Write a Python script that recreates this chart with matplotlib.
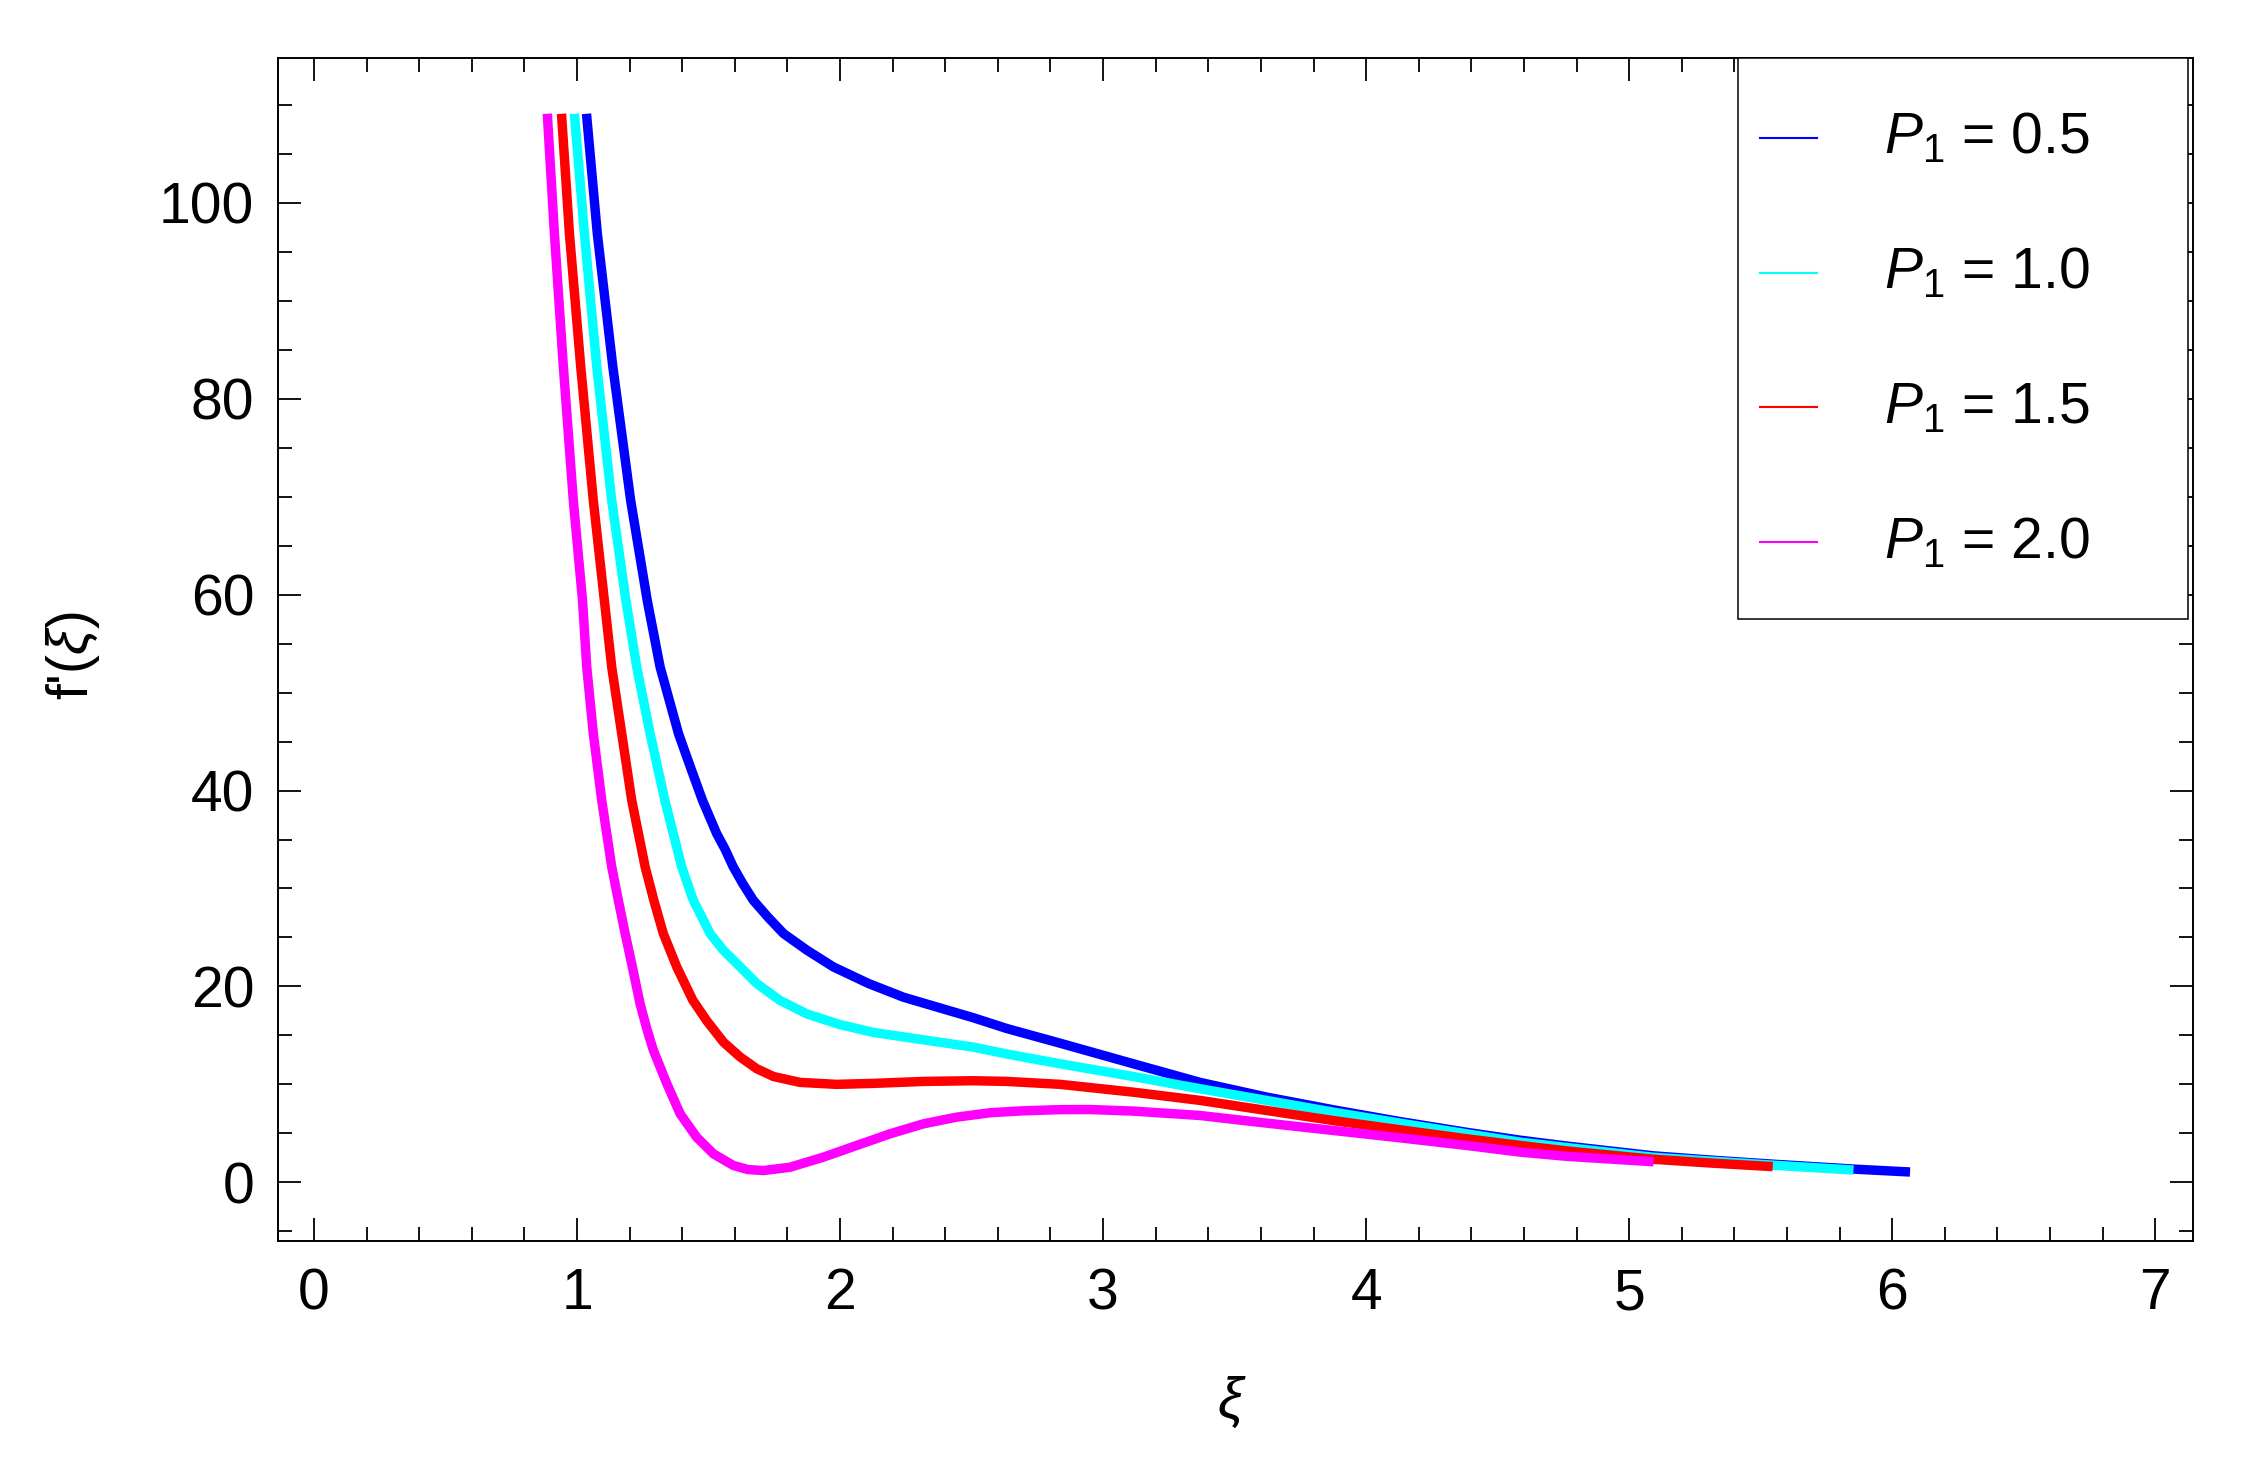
import matplotlib
matplotlib.use('Agg')
import matplotlib.pyplot as plt
import numpy as np
from matplotlib.lines import Line2D
from matplotlib.legend_handler import HandlerLine2D

# Fonts: Arial-like text, italic symbols in math
plt.rcParams['font.family'] = ['Liberation Sans', 'DejaVu Sans']
plt.rcParams['mathtext.fontset'] = 'custom'
plt.rcParams['mathtext.rm'] = 'Liberation Sans'
plt.rcParams['mathtext.it'] = 'Liberation Sans:italic'
plt.rcParams['mathtext.bf'] = 'Liberation Sans:bold'

# Curve data
xi_05 = [1.036, 1.077, 1.136, 1.204, 1.267, 1.316, 1.386, 1.431, 1.477, 1.531,
         1.563, 1.594, 1.630, 1.670, 1.725, 1.785, 1.874, 1.974, 2.108, 2.241,
         2.380, 2.507, 2.634, 2.837, 3.115, 3.369, 3.622, 3.876, 4.129, 4.383,
         4.586, 4.763, 5.093, 5.320, 5.546, 5.853, 6.068]
f_05 = [109.1, 96.9, 83.3, 69.6, 59.4, 52.6, 45.8, 42.4, 39.0, 35.6,
        34.0, 32.2, 30.5, 28.8, 27.1, 25.4, 23.7, 22.0, 20.3, 18.9,
        17.8, 16.8, 15.7, 14.2, 12.1, 10.2, 8.7, 7.4, 6.2, 5.1,
        4.3, 3.7, 2.7, 2.25, 1.85, 1.35, 1.05]

xi_10 = [0.990, 1.028, 1.075, 1.132, 1.186, 1.227, 1.278, 1.334, 1.398, 1.442,
         1.506, 1.556, 1.620, 1.683, 1.770, 1.873, 2.000, 2.127, 2.253, 2.380,
         2.507, 2.634, 2.837, 3.115, 3.369, 3.622, 3.876, 4.129, 4.383, 4.586,
         4.763, 5.093, 5.320, 5.546, 5.853]
f_10 = [109.1, 96.9, 83.3, 69.6, 59.4, 52.6, 45.8, 39.0, 32.2, 28.8,
        25.4, 23.7, 22.0, 20.3, 18.6, 17.2, 16.1, 15.3, 14.8, 14.3,
        13.8, 13.1, 12.1, 10.8, 9.55, 8.36, 7.16, 6.04, 4.95, 4.1,
        3.55, 2.55, 2.15, 1.75, 1.25]

xi_15 = [0.941, 0.971, 1.014, 1.062, 1.104, 1.132, 1.170, 1.208, 1.259, 1.292,
         1.328, 1.379, 1.440, 1.493, 1.557, 1.620, 1.683, 1.747, 1.848, 1.987,
         2.127, 2.317, 2.507, 2.634, 2.837, 3.115, 3.369, 3.622, 3.876, 4.129,
         4.383, 4.586, 4.763, 5.093, 5.320, 5.546]
f_15 = [109.1, 96.9, 83.3, 69.6, 59.4, 52.6, 45.8, 39.0, 32.2, 28.8,
        25.4, 22.0, 18.6, 16.5, 14.3, 12.8, 11.6, 10.8, 10.2, 10.0,
        10.1, 10.3, 10.37, 10.3, 10.0, 9.2, 8.36, 7.33, 6.3, 5.36,
        4.44, 3.76, 3.2, 2.35, 1.95, 1.6]

xi_20 = [0.887, 0.914, 0.948, 0.986, 1.021, 1.037, 1.062, 1.094, 1.132, 1.157,
         1.183, 1.212, 1.240, 1.265, 1.290, 1.341, 1.392, 1.455, 1.519, 1.594,
         1.650, 1.709, 1.810, 1.937, 2.063, 2.190, 2.317, 2.443, 2.570, 2.697,
         2.837, 2.950, 3.115, 3.369, 3.622, 3.876, 4.129, 4.383, 4.586, 4.763,
         5.093]
f_20 = [109.1, 96.9, 83.3, 69.6, 59.4, 52.6, 45.8, 39.0, 32.2, 28.8,
        25.4, 21.8, 18.2, 15.7, 13.5, 10.1, 7.0, 4.6, 2.9, 1.72,
        1.3, 1.2, 1.54, 2.57, 3.76, 4.95, 5.97, 6.65, 7.1, 7.3,
        7.42, 7.43, 7.27, 6.82, 6.04, 5.29, 4.54, 3.76, 3.08, 2.65,
        2.1]

labels = [r'$P_1$ = 0.5', r'$P_1$ = 1.0', r'$P_1$ = 1.5', r'$P_1$ = 2.0']
colors = ['#0000ff', '#00ffff', '#ff0000', '#ff00ff']
x_ticks = [0, 1, 2, 3, 4, 5, 6, 7]
y_ticks = [0, 20, 40, 60, 80, 100]


# Legend sample line sitting lower, level with the text
class LowLine(HandlerLine2D):
    def create_artists(self, legend, orig_handle, xdescent, ydescent,
                       width, height, fontsize, trans):
        artists = super().create_artists(legend, orig_handle, xdescent, ydescent,
                                         width, height, fontsize, trans)
        for a in artists:
            a.set_ydata(np.asarray(a.get_ydata()) - 0.37 * fontsize)
        return artists


fig = plt.figure(figsize=(22.47, 14.63), dpi=100)
ax = fig.add_axes([0.1237, 0.1517, 0.8523, 0.8087])

# Draw the curves (later ones on top)
series = [(xi_05, f_05), (xi_10, f_10), (xi_15, f_15), (xi_20, f_20)]
for (xs, ys), c in zip(series, colors):
    ax.plot(xs, ys, color=c, lw=6.8, solid_capstyle='butt', solid_joinstyle='round')

ax.set_xlim(-0.137, 7.144)
ax.set_ylim(-6.0, 114.8)
ax.set_xticks(x_ticks)
ax.set_yticks(y_ticks)
ax.set_xticks([i / 5 for i in range(0, 36)], minor=True)
ax.set_yticks(list(range(-5, 115, 5)), minor=True)

# Frame ticks pointing in, on all four sides
ax.tick_params(which='both', direction='in', top=True, right=True, width=1.3, colors='black')
ax.tick_params(which='major', length=16.5, labelsize=41)
ax.tick_params(which='minor', length=10)
ax.tick_params(axis='x', which='major', pad=19)
ax.tick_params(axis='y', which='major', pad=17)
for s in ax.spines.values():
    s.set_linewidth(1.4)

ax.set_xlabel(r'$\xi$', fontsize=41)
ax.set_ylabel(r"f'($\xi$)", fontsize=41)
ax.xaxis.set_label_coords(0.498, -0.113)
ax.yaxis.set_label_coords(-0.092, 0.4945)

# Legend with thin sample lines
handles = [Line2D([], [], color=c, lw=1.5) for c in colors]
leg = ax.legend(handles, labels, loc='upper left', mode='expand',
                bbox_to_anchor=(0.7624, 0.0, 0.235, 1.0), borderaxespad=0.0,
                fontsize=41, handlelength=1.0, handleheight=2.65,
                handletextpad=1.18, labelspacing=0.40, borderpad=0.39,
                fancybox=False, framealpha=1.0, edgecolor='black',
                handler_map={Line2D: LowLine()})
leg.get_frame().set_linewidth(1.1)

fig.savefig('out.png', dpi=100)
